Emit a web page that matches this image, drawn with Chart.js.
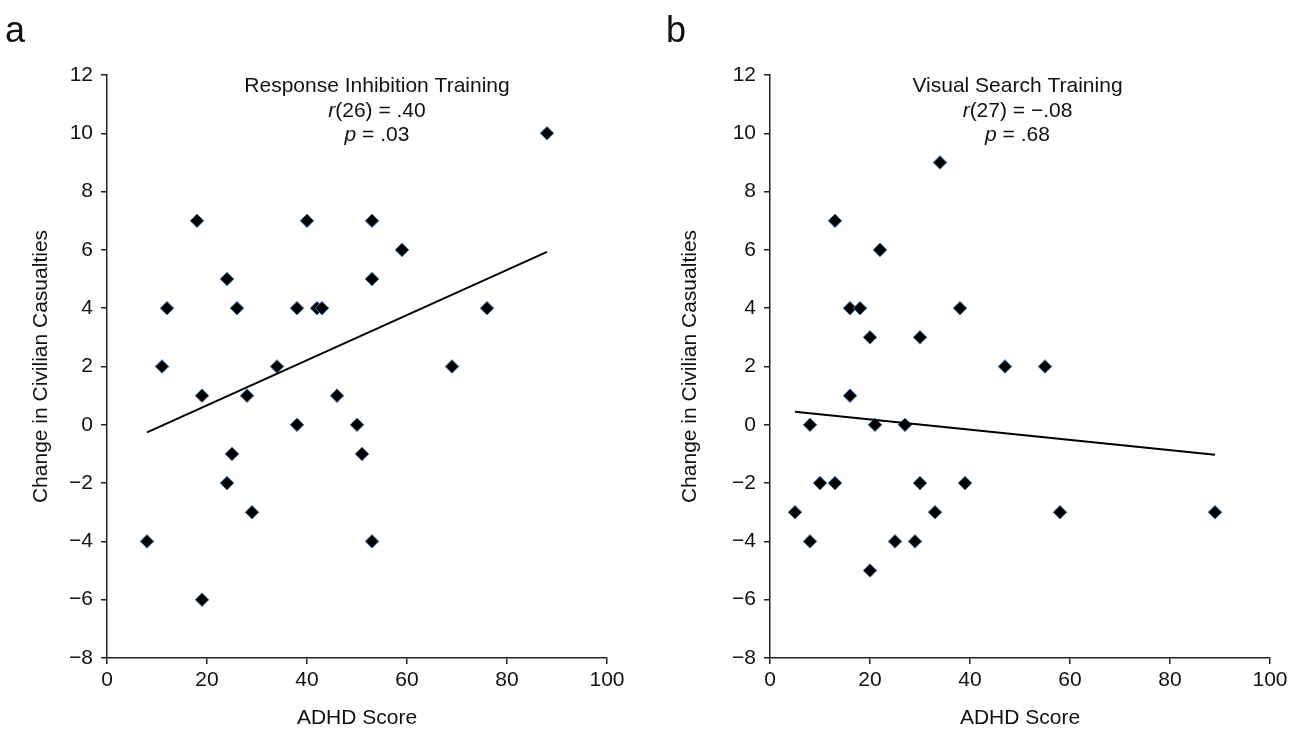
<!DOCTYPE html>
<html>
<head>
<meta charset="utf-8">
<script src="https://cdn.jsdelivr.net/npm/chart.js@4.4.1/dist/chart.umd.min.js"></script>
<style>
  body { margin: 0; background: #fff; }
  .panel { position: absolute; top: 0; width: 649px; height: 733px; }
</style>
</head>
<body>
<div class="panel" style="left:0"><canvas id="chartA" width="649" height="733"></canvas></div>
<div class="panel" style="left:649px"><canvas id="chartB" width="649" height="733"></canvas></div>
<script>
// Panel a - Response Inhibition Training
var adhdA   = [8, 11, 12, 18, 19, 19, 24, 24, 25, 26, 28, 29, 34, 38, 38, 40, 42, 43, 46, 50, 51, 53, 53, 53, 59, 69, 76, 88];
var changeA = [-4, 2, 4, 7, 1, -6, 5, -2, -1, 4, 1, -3, 2, 4, 0, 7, 4, 4, 1, 0, -1, 7, 5, -4, 6, 2, 4, 10];
var fitXA = [8, 88];
var fitYA = [-0.26, 5.93];

// Panel b - Visual Search Training
var adhdB   = [5, 8, 8, 10, 13, 13, 16, 16, 18, 20, 20, 21, 22, 25, 27, 29, 30, 30, 33, 34, 38, 39, 47, 55, 58, 89];
var changeB = [-3, 0, -4, -2, 7, -2, 4, 1, 4, 3, -5, 0, 6, -4, 0, -4, 3, -2, -3, 9, 4, -2, 2, 2, -3, -3];
var fitXB = [5, 89];
var fitYB = [0.45, -1.03];

// Axis ticks
var xTicks = [0, 20, 40, 60, 80, 100];
var yTicks = [-8, -6, -4, -2, 0, 2, 4, 6, 8, 10, 12];

var FONT = "'Liberation Sans', Arial, sans-serif";
var INK = '#111';

function toPoints(xs, ys) {
    return xs.map(function (x, i) { return {x: x, y: ys[i]}; });
}

// Draws the panel letter and the centred stats text (with italic parts)
var panelTextPlugin = {
    id: 'panelText',
    afterDraw: function (chart, args, opts) {
        var ctx = chart.ctx;
        var area = chart.chartArea;
        ctx.save();
        ctx.fillStyle = INK;
        ctx.textBaseline = 'alphabetic';
        ctx.textAlign = 'left';
        ctx.font = '36px ' + FONT;
        ctx.fillText(opts.letter, opts.letterX, 42);

        var cx = chart.scales.x.getPixelForValue(opts.centerX);
        opts.lines.forEach(function (parts, i) {
            var widths = parts.map(function (p) {
                ctx.font = (p[1] ? 'italic ' : '') + '21px ' + FONT;
                return ctx.measureText(p[0]).width;
            });
            var total = widths.reduce(function (a, b) { return a + b; }, 0);
            var x = cx - total / 2;
            var y = area.top + 17 + i * 24.5;
            parts.forEach(function (p, j) {
                ctx.font = (p[1] ? 'italic ' : '') + '21px ' + FONT;
                ctx.fillText(p[0], x, y);
                x += widths[j];
            });
        });
        ctx.restore();
    }
};

function makeChart(canvasId, xs, ys, fitX, fitY, text, padLeft, padRight) {
    var canvas = document.getElementById(canvasId);
    return new Chart(canvas, {
        type: 'scatter',
        data: {
            datasets: [{
                label: 'fit',
                type: 'line',
                data: toPoints(fitX, fitY),
                borderColor: '#000',
                borderWidth: 2,
                pointRadius: 0,
                fill: false
            }, {
                label: 'participants',
                data: toPoints(xs, ys),
                pointStyle: 'rectRot',
                pointRadius: 6.8,
                backgroundColor: '#000',
                borderColor: '#4a7bb0',
                borderWidth: 1
            }]
        },
        options: {
            responsive: false,
            animation: false,
            devicePixelRatio: 1,
            layout: { padding: { left: 0, top: 75, right: padRight, bottom: 0 } },
            plugins: {
                legend: { display: false },
                tooltip: { enabled: false },
                panelText: text
            },
            scales: {
                x: {
                    type: 'linear',
                    min: 0,
                    max: 100,
                    afterBuildTicks: function (scale) {
                        scale.ticks = xTicks.map(function (v) { return {value: v}; });
                    },
                    afterFit: function (scale) {
                        scale.height = 75;
                        scale.paddingLeft = 0;
                        scale.paddingRight = 0;
                    },
                    grid: { drawOnChartArea: false, drawTicks: true, tickLength: 6, color: '#222', lineWidth: 1.5 },
                    border: { display: true, color: '#222', width: 1.5 },
                    ticks: { color: INK, font: { family: FONT, size: 21 }, padding: 4, maxRotation: 0 },
                    title: { display: true, text: 'ADHD Score', color: INK, font: { family: FONT, size: 21 }, padding: { top: 0, bottom: 2 } }
                },
                y: {
                    type: 'linear',
                    min: -8,
                    max: 12,
                    afterBuildTicks: function (scale) {
                        scale.ticks = yTicks.map(function (v) { return {value: v}; });
                    },
                    afterFit: function (scale) {
                        scale.width = padLeft;
                        scale.paddingTop = 0;
                        scale.paddingBottom = 0;
                    },
                    grid: { drawOnChartArea: false, drawTicks: true, tickLength: 6, color: '#222', lineWidth: 1.5 },
                    border: { display: true, color: '#222', width: 1.5 },
                    ticks: {
                        color: INK,
                        font: { family: FONT, size: 21 },
                        padding: 8,
                        callback: function (v) { return String(v).replace('-', '\u2212'); }
                    },
                    title: { display: true, text: 'Change in Civilian Casualties', color: INK, font: { family: FONT, size: 21 }, padding: { top: 29, bottom: 0 } }
                }
            }
        },
        plugins: [panelTextPlugin]
    });
}

makeChart('chartA', adhdA, changeA, fitXA, fitYA, {
    letter: 'a',
    letterX: 5,
    centerX: 54,
    lines: [
        [['Response Inhibition Training', false]],
        [['r', true], ['(26) = .40', false]],
        [['p', true], [' = .03', false]]
    ]
}, 107, 42);

makeChart('chartB', adhdB, changeB, fitXB, fitYB, {
    letter: 'b',
    letterX: 17,
    centerX: 49.5,
    lines: [
        [['Visual Search Training', false]],
        [['r', true], ['(27) = \u2212.08', false]],
        [['p', true], [' = .68', false]]
    ]
}, 121, 28);
</script>
</body>
</html>
